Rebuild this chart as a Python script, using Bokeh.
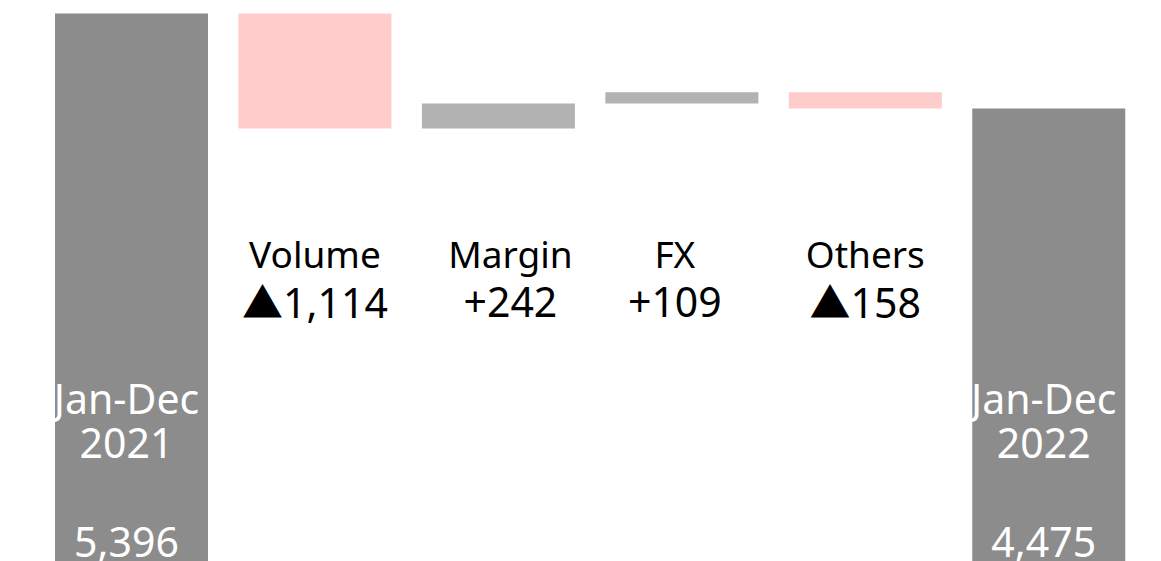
from bokeh.plotting import figure
from bokeh.models import ColumnDataSource, Range1d
from bokeh.core.properties import value
from bokeh.embed import file_html
from bokeh.resources import INLINE

# ---- data ----
categories = ["Jan-Dec 2021", "Volume", "Margin", "FX", "Others", "Jan-Dec 2022"]
start_total = 5396
delta_names = ["Volume", "Margin", "FX", "Others"]
deltas = [-1114, 242, 109, -158]
end_total = 4475
period_line1 = ["Jan-Dec", "Jan-Dec"]
period_line2 = ["2021", "2022"]

# ---- styles / layout ----
TOTAL_COLOR = "#8c8c8c"
POS_COLOR = "#b2b2b2"
NEG_COLOR = "#ffcccc"
FONT = value("Noto Sans")
DELTA_FONT = value("Noto Sans, Noto Sans CJK JP")
label_dx = [0, 12, -7, 0]

# ---- build waterfall geometry ----
xs = list(range(len(categories)))
tops, bottoms, colors = [start_total], [0], [TOTAL_COLOR]
running = start_total
for d in deltas:
    new = running + d
    tops.append(max(running, new))
    bottoms.append(min(running, new))
    colors.append(POS_COLOR if d > 0 else NEG_COLOR)
    running = new
tops.append(end_total)
bottoms.append(0)
colors.append(TOTAL_COLOR)

bars = ColumnDataSource(dict(x=xs, top=tops, bottom=bottoms, color=colors))

p = figure(width=1161, height=561, output_backend="svg", toolbar_location=None,
           x_range=Range1d(-0.7141, 5.6146), y_range=Range1d(87.5, 5521.9),
           min_border=0, min_border_left=0, min_border_right=0,
           min_border_top=0, min_border_bottom=0)
p.axis.visible = False
p.grid.visible = False
p.outline_line_color = None
p.background_fill_color = "white"
p.border_fill_color = "white"

p.vbar(x="x", top="top", bottom="bottom", width=0.834, color="color",
       line_color=None, source=bars)

# delta labels
def fmt(d):
    return ("\u25b2" if d < 0 else "+") + f"{abs(d):,}"

dsrc = ColumnDataSource(dict(
    x=xs[1:-1],
    name=delta_names,
    val=[fmt(d) for d in deltas],
    dx=label_dx,
))
p.text(x="x", y=3071, text="name", source=dsrc, x_offset="dx",
       text_align="center", text_baseline="alphabetic",
       text_font=FONT, text_font_size="37px", text_color="black")
p.text(x="x", y=2597, text="val", source=dsrc, x_offset="dx",
       text_align="center", text_baseline="alphabetic",
       text_font=DELTA_FONT, text_font_size="41px", text_color="black")

# total labels
tsrc = ColumnDataSource(dict(
    x=[xs[0], xs[-1]],
    l1=period_line1,
    l2=period_line2,
    v=[f"{start_total:,}", f"{end_total:,}"],
))
for col, yv in (("l1", 1667), ("l2", 1231), ("v", 272)):
    p.text(x="x", y=yv, text=col, source=tsrc, x_offset=-5,
           text_align="center", text_baseline="alphabetic",
           text_font=FONT, text_font_size="41px", text_color="white")

open("out.html", "w").write(file_html(p, INLINE))
